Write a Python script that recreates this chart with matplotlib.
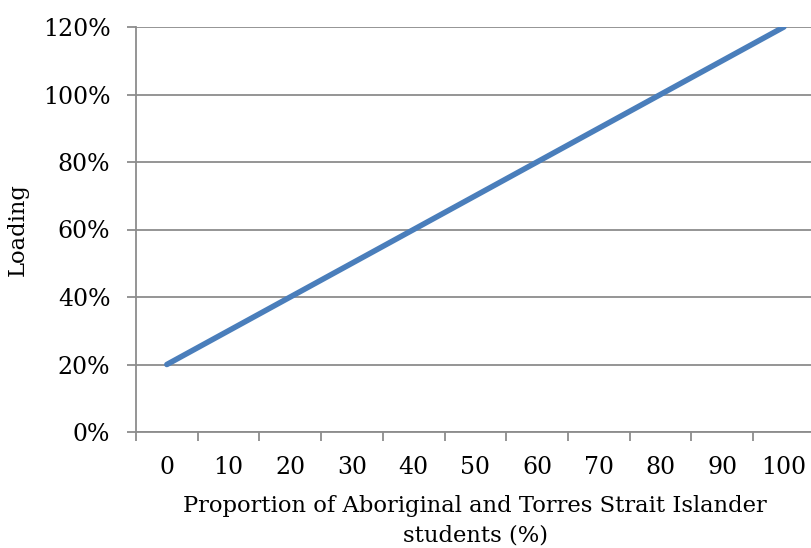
import matplotlib
matplotlib.use("Agg")
import matplotlib.pyplot as plt
from matplotlib.ticker import FixedLocator, PercentFormatter

# data
proportion = [0, 10, 20, 30, 40, 50, 60, 70, 80, 90, 100]
loading = [20, 30, 40, 50, 60, 70, 80, 90, 100, 110, 120]
y_ticks = [0, 20, 40, 60, 80, 100, 120]

BLUE = "#4A7EBB"
GREY = "#8C8C8C"
FONT = "DejaVu Serif"

plt.rcParams["font.family"] = FONT

fig = plt.figure(figsize=(8.11, 5.48), dpi=100)
ax = fig.add_axes([136 / 811, 1 - 432 / 548, 678.7 / 811, 405 / 548])

idx = list(range(len(proportion)))
ax.plot(idx, loading, color=BLUE, lw=4, solid_capstyle="round", zorder=3)

ax.set_xlim(-0.5, len(proportion) - 0.5)
ax.set_ylim(0, 120)
ax.set_yticks(y_ticks)
ax.yaxis.set_major_formatter(PercentFormatter(decimals=0))
ax.grid(axis="y", color=GREY, lw=1.3)
ax.set_axisbelow(True)

# category axis: labels at centres, tick marks between
ax.set_xticks(idx)
ax.set_xticklabels([str(p) for p in proportion])
ax.xaxis.set_minor_locator(FixedLocator([i - 0.5 for i in range(len(proportion) + 1)]))
ax.tick_params(axis="x", which="major", length=0, pad=17, labelsize=17)
ax.tick_params(axis="x", which="minor", length=6.5, width=1.3, color=GREY)
ax.tick_params(axis="y", length=6.5, width=1.3, color=GREY, pad=12, labelsize=17)

for side in ["top", "right"]:
    ax.spines[side].set_visible(False)
for side in ["left", "bottom"]:
    ax.spines[side].set_color(GREY)
    ax.spines[side].set_linewidth(1.3)

ax.set_xlabel("Proportion of Aboriginal and Torres Strait Islander\nstudents (%)",
              fontsize=16.3, labelpad=12, linespacing=1.45)
ax.set_ylabel("Loading", fontsize=16.3, labelpad=10)

fig.savefig("out.png", dpi=100)
